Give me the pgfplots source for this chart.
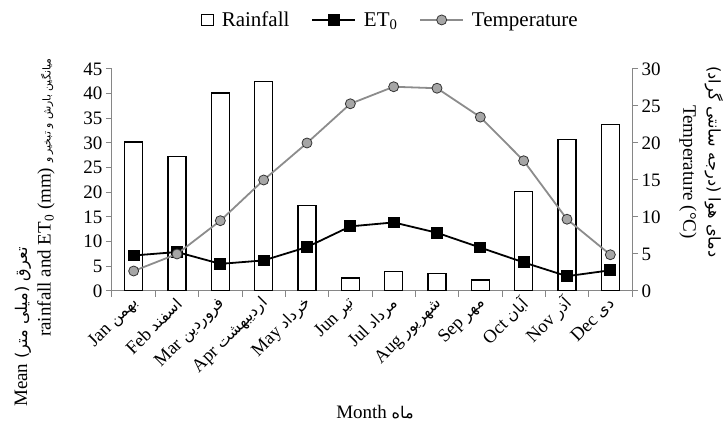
\documentclass[border=0pt]{standalone}
\usepackage{fontspec}
\setmainfont{Liberation Serif}
\newfontfamily\arabicfont[Script=Arabic,Scale=0.85]{DejaVu Sans}
\newfontfamily\arabicsmall[Script=Arabic,Scale=0.57]{DejaVu Sans}
\TeXXeTstate=1
\usepackage{pgfplots}
\pgfplotsset{compat=1.18}
\definecolor{axgray}{RGB}{134,134,134}
\definecolor{tline}{RGB}{140,140,140}
\definecolor{tfill}{RGB}{166,166,166}
\newcommand{\fa}[1]{{\arabicfont\beginR #1\endR}}
\newcommand{\fs}[1]{{\arabicsmall\beginR #1\endR}}
\begin{document}
\begin{tikzpicture}[font=\fontsize{19}{22}\selectfont]
\begin{axis}[
  scale only axis, width=520pt, height=222pt,
  xmin=-0.5, xmax=11.5, ymin=0, ymax=45,
  axis y line*=left, axis x line*=bottom,
  axis line style={axgray, line width=1pt},
  xtick={0,...,11},
  xticklabels={{Jan \fa{بهمن}},{Feb \fa{اسفند}},{Mar \fa{فروردین}},{Apr \fa{اردیبهشت}},{May \fa{خرداد}},{Jun \fa{تیر}},{Jul \fa{مرداد}},{Aug \fa{شهریور}},{Sep \fa{مهر}},{Oct \fa{آبان}},{Nov \fa{آذر}},{Dec \fa{دی}}},
  major x tick style={draw=none},
  minor xtick={-0.5,0.5,...,11.5},
  minor x tick style={axgray,line width=1pt},
  minor tick length=6pt,
  ytick={0,5,...,45},
  y tick style={axgray,line width=1pt},
  major tick length=6pt,
  tick align=outside,
  xticklabel style={rotate=45, anchor=east, yshift=-4pt, xshift=2pt, font=\fontsize{18.5}{22}\selectfont},
  yticklabel style={font=\fontsize{19}{22}\selectfont},
  /pgf/number format/assume math mode=true,
]
\addplot[ybar, bar width=18pt, draw=black, line width=1.4pt, fill=white] coordinates {
(0,30.2) (1,27.3) (2,40.1) (3,42.5) (4,17.3) (5,2.6) (6,4.0) (7,3.6) (8,2.2) (9,20.2) (10,30.7) (11,33.7)};
\addplot[black, line width=1.8pt, mark=square*, mark size=5pt, mark options={solid}] coordinates {
(0,7.2) (1,7.9) (2,5.5) (3,6.2) (4,8.9) (5,13.1) (6,13.9) (7,11.8) (8,8.8) (9,5.8) (10,3.0) (11,4.2)};
\end{axis}
\begin{axis}[
  scale only axis, width=520pt, height=222pt,
  xmin=-0.5, xmax=11.5, ymin=0, ymax=30,
  axis y line*=right, axis x line=none,
  axis line style={axgray, line width=1pt},
  ytick={0,5,...,30},
  y tick style={axgray,line width=1pt},
  major tick length=6pt,
  tick align=outside,
  yticklabel style={font=\fontsize{19}{22}\selectfont},
  /pgf/number format/assume math mode=true,
  legend columns=3,
  legend style={draw=none, fill=none, at={(0.535,1.221)}, anchor=center,
    font=\fontsize{21}{24}\selectfont,
    /tikz/every odd column/.append style={column sep=6pt},
    /tikz/every even column/.append style={column sep=20pt}},
  legend image code/.code={\draw[mark repeat=2,mark phase=2,#1] plot coordinates {(0cm,0cm)(0.75cm,0cm)(1.5cm,0cm)};},
]
\addlegendimage{legend image code/.code={\draw[black, line width=1.2pt, fill=white] (0cm,-0.19cm) rectangle (0.42cm,0.19cm);}}
\addlegendentry{Rainfall}
\addlegendimage{black, line width=1.8pt, mark=square*, mark size=5pt}
\addlegendentry{ET\textsubscript{0}}
\addplot[tline, line width=1.8pt, mark=*, mark size=5pt, mark options={fill=tfill, draw=black!80, line width=0.8pt}] coordinates {
(0,2.7) (1,5.0) (2,9.5) (3,15.0) (4,20.0) (5,25.3) (6,27.6) (7,27.4) (8,23.5) (9,17.6) (10,9.7) (11,4.9)};
\addlegendentry{Temperature}
\end{axis}
\node[rotate=90, anchor=west, inner sep=0pt] at (-89pt,-116pt) {Mean \fa{تعرق (میلی متر)}};
\node[rotate=90, anchor=west, inner sep=0pt] at (-66pt,-46pt) {rainfall and ET\textsubscript{0} (mm) \fs{میانگین بارش و تبخیر و}};
\node[rotate=-90, anchor=west, inner sep=0pt] at (576pt,186pt) {Temperature (°C)};
\node[rotate=-90, anchor=center, inner sep=0pt] at (602pt,129pt) {\fa{دمای هوا (درجه سانتی گراد)}};
\node[anchor=center, inner sep=0pt] at (263pt,-121pt) {Month \fa{ماه}};
\pgfresetboundingbox
\path (-112pt,-139pt) rectangle (614pt,291pt);
\end{tikzpicture}
\end{document}
